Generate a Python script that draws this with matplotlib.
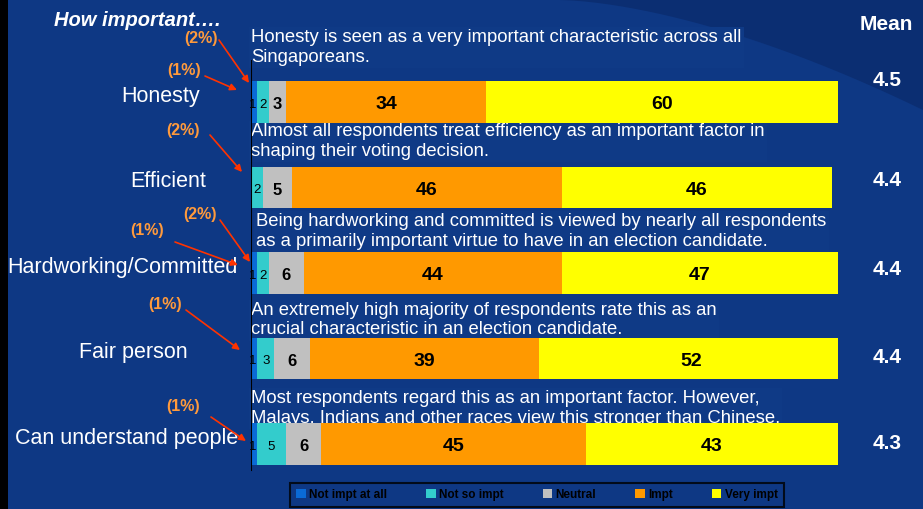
import numpy as np
import matplotlib
matplotlib.use('Agg')
import matplotlib.pyplot as plt
from matplotlib.patches import Rectangle, Patch, Polygon

plt.rcParams['font.family'] = ['Liberation Sans', 'DejaVu Sans']

# data
attributes = ['Honesty', 'Efficient', 'Hardworking/Committed', 'Fair person', 'Can understand people']
not_at_all = [1, 0, 1, 1, 1]
not_so = [2, 2, 2, 3, 5]
neutral = [3, 5, 6, 6, 6]
impt = [34, 46, 44, 39, 45]
very_impt = [60, 46, 47, 52, 43]
means = [4.5, 4.4, 4.4, 4.4, 4.3]
legend_labels = ['Not impt at all', 'Not so impt', 'Neutral', 'Impt', 'Very impt']
notes = [
    "Honesty is seen as a very important characteristic across all\nSingaporeans.",
    "Almost all respondents treat efficiency as an important factor in\nshaping their voting decision.",
    "Being hardworking and committed is viewed by nearly all respondents\nas a primarily important virtue to have in an election candidate.",
    "An extremely high majority of respondents rate this as an\ncrucial characteristic in an election candidate.",
    "Most respondents regard this as an important factor. However,\nMalays, Indians and other races view this stronger than Chinese.",
]
# small-share callouts: (text, text pos px, arrow start px, arrow tip px)
callouts = [
    ('(2%)', (201, 38), (219, 40), (249, 83)),
    ('(1%)', (184, 70), (205, 76), (237, 90)),
    ('(2%)', (183, 131), (210, 135), (242, 172)),
    ('(2%)', (200, 215), (220, 220), (250, 262)),
    ('(1%)', (147, 230), (175, 242), (238, 265)),
    ('(1%)', (165, 305), (186, 310), (240, 350)),
    ('(1%)', (183, 406), (211, 417), (246, 441)),
]

colors = ['#0a6ad6', '#33cccc', '#c0c0c0', '#ff9900', '#ffff00']
bg = '#0e3884'

W, H = 923, 509
fig = plt.figure(figsize=(W / 100, H / 100), dpi=100)
fig.patch.set_facecolor(bg)

# darker band in the top-right corner of the slide background
t = np.linspace(0, 1, 30)
cx_ = 560 + 363 * t
cy_ = 0 + 110 * t ** 1.6
pts = [(x / W, 1 - yy / H) for x, yy in zip(cx_, cy_)] + [(1, 1)]
fig.patches.append(Polygon(pts, closed=True, transform=fig.transFigure,
                           facecolor='#0b2e72', edgecolor='none', zorder=-5))

ax = fig.add_axes([251 / W, 0, 587 / W, 1])
ax.set_facecolor('none')
ax.set_xlim(0, 100)
ax.set_ylim(4.76, -1.193)
ax.axis('off')

y = np.arange(len(attributes))
series = [not_at_all, not_so, neutral, impt, very_impt]
left = np.zeros(len(attributes))
bh = 0.49
for k, (vals, c) in enumerate(zip(series, colors)):
    vals = np.array(vals, dtype=float)
    ax.barh(y, vals, left=left, height=bh, color=c, edgecolor='none', zorder=2)
    for i, v in enumerate(vals):
        if v == 0:
            continue
        cx = left[i] + v / 2
        if k == 0:
            ax.text(left[i] + 0.3, y[i] + 0.03, f'{v:g}', ha='center', va='center',
                    fontsize=9.5, color='black', zorder=5)
        elif k == 1:
            ax.text(cx, y[i] + 0.03, f'{v:g}', ha='center', va='center',
                    fontsize=9.5, color='black', zorder=5)
        elif k == 2:
            ax.text(cx, y[i] + 0.03, f'{v:g}', ha='center', va='center',
                    fontsize=12, fontweight='bold', color='black', zorder=5)
        else:
            ax.text(cx, y[i] + 0.03, f'{v:g}', ha='center', va='center',
                    fontsize=14, fontweight='bold', color='black', zorder=5)
    left += vals

ax.plot([0, 0], [-0.48, 4.3], color='black', lw=1.5, zorder=4)

# notes above each bar (bars drawn over them where they touch)
note_gap = [0.175, 0.08, 0.025, -0.01, -0.045]
for i, note in enumerate(notes):
    xo = 0.9 if i == 2 else 0
    ax.text(xo, y[i] - bh / 2 - note_gap[i], note, ha='left', va='bottom', fontsize=13.3,
            color='white', linespacing=1.2, zorder=1.5,
            bbox=dict(boxstyle='square,pad=0.12', facecolor='#0f3a86', edgecolor='none'))

# category labels (centred in their own text boxes, like the slide)
label_cx = [161, 168, 122, 133, 127]
for i, lab in enumerate(attributes):
    ax.text((label_cx[i] - 251) / 5.87, y[i] - 0.07, lab, ha='center', va='center',
            fontsize=15.5, color='white')

# means
mean_dy = [-0.25, -0.08, -0.04, -0.01, -0.01]
ax.text(108.3, -0.91, 'Mean', ha='center', va='center', fontsize=15,
        fontweight='bold', color='white')
for i, m in enumerate(means):
    ax.text(108.3, y[i] + mean_dy[i], f'{m:.1f}', ha='center', va='center',
            fontsize=15, fontweight='bold', color='white')

fig.text(137 / W, 1 - 20 / H, 'How important….', ha='center', va='center',
         fontsize=14.5, fontweight='bold', fontstyle='italic', color='white')

def fp(p):
    return (p[0] / W, 1 - p[1] / H)

for txt, tpos, a0, a1 in callouts:
    fig.text(*fp(tpos), txt, ha='center', va='center', fontsize=11.5,
             fontweight='bold', color='#ff9a3c')
    ax.annotate('', xy=fp(a1), xytext=fp(a0), xycoords='figure fraction',
                textcoords='figure fraction',
                arrowprops=dict(arrowstyle='-|>', color='#ff3300', lw=1.2,
                                mutation_scale=10, shrinkA=0, shrinkB=0))

handles = [Patch(facecolor=c, edgecolor='none') for c in colors]
leg = fig.legend(handles, legend_labels, loc='center', bbox_to_anchor=(537 / W, 1 - 495 / H),
                 ncol=5, frameon=True, handlelength=0.8, handleheight=0.8,
                 handletextpad=0.3, columnspacing=3.3, borderpad=0.55,
                 prop={'weight': 'bold', 'size': 8.5})
leg.get_frame().set_facecolor(bg)
leg.get_frame().set_edgecolor('black')
leg.get_frame().set_linewidth(1.5)
leg.get_frame().set_boxstyle('square', pad=0)
for t in leg.get_texts():
    t.set_color('black')

fig.patches.append(Rectangle((0, 0), 8 / W, 1, transform=fig.transFigure,
                             facecolor='black', edgecolor='none', zorder=10))

fig.savefig('out.png', dpi=100, facecolor=fig.get_facecolor())
